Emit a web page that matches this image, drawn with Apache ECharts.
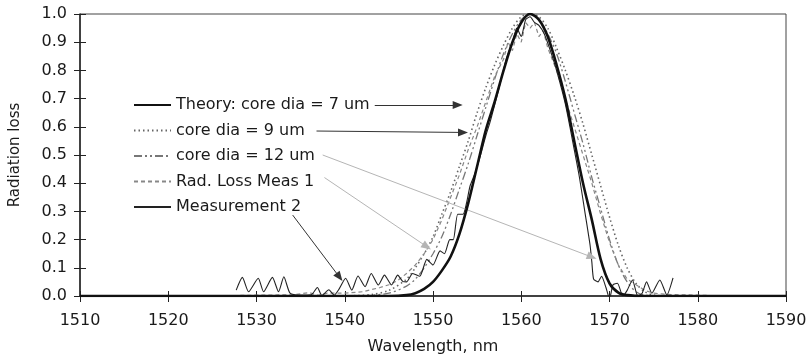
<!DOCTYPE html>
<html>
<head>
<meta charset="utf-8">
<script src="https://cdn.jsdelivr.net/npm/echarts@6/dist/echarts.min.js"></script>
<style>
  html, body { margin: 0; padding: 0; background: #fff; }
  #chart { width: 811px; height: 360px; }
</style>
</head>
<body>
<div id="chart"></div>
<script>
// Axis ranges and tick labels
const xTicks = [1510, 1520, 1530, 1540, 1550, 1560, 1570, 1580, 1590];
const yTicks = [0.0, 0.1, 0.2, 0.3, 0.4, 0.5, 0.6, 0.7, 0.8, 0.9, 1.0];

// Theory: core dia = 7 um
const theory7Wl = [1510, 1545, 1547, 1548, 1549, 1550, 1551, 1552, 1553, 1554, 1555, 1556, 1557, 1558, 1559, 1560, 1561, 1562, 1563, 1564, 1565, 1566, 1567, 1568, 1569, 1570, 1571, 1572, 1574, 1590];
const theory7Loss = [0, 0, 0.003, 0.01, 0.025, 0.05, 0.09, 0.14, 0.22, 0.33, 0.46, 0.59, 0.69, 0.8, 0.9, 0.97, 1.0, 0.98, 0.92, 0.82, 0.7, 0.55, 0.4, 0.27, 0.13, 0.045, 0.012, 0.003, 0, 0];

// core dia = 9 um
const theory9Wl = [1540, 1543, 1545, 1547, 1548, 1549, 1550, 1551, 1552, 1553, 1554, 1555, 1556, 1557, 1558, 1559, 1560, 1561, 1562, 1563, 1564, 1565, 1566, 1567, 1568, 1569, 1570, 1571, 1572, 1573, 1574, 1575, 1577];
const theory9Loss = [0, 0.005, 0.02, 0.06, 0.1, 0.15, 0.21, 0.29, 0.37, 0.46, 0.55, 0.65, 0.74, 0.82, 0.89, 0.95, 0.99, 1.0, 0.99, 0.95, 0.88, 0.8, 0.71, 0.61, 0.5, 0.39, 0.28, 0.18, 0.1, 0.045, 0.015, 0.003, 0];

// core dia = 12 um
const theory12Wl = [1542, 1545, 1547, 1548, 1549, 1550, 1551, 1552, 1553, 1554, 1555, 1556, 1557, 1558, 1559, 1560, 1561, 1562, 1563, 1564, 1565, 1566, 1567, 1568, 1569, 1570, 1571, 1572, 1573, 1574, 1576];
const theory12Loss = [0, 0.01, 0.035, 0.06, 0.1, 0.15, 0.21, 0.29, 0.38, 0.47, 0.57, 0.67, 0.77, 0.86, 0.93, 0.98, 1.0, 0.98, 0.93, 0.86, 0.76, 0.65, 0.54, 0.42, 0.31, 0.2, 0.11, 0.05, 0.015, 0.003, 0];

// Rad. Loss Meas 1
const meas1Wl = [1525, 1530, 1534, 1536, 1537, 1538, 1540, 1542, 1544, 1545, 1546, 1547, 1548, 1549, 1550, 1551, 1552, 1553, 1554, 1555, 1556, 1557, 1558, 1558.5, 1559, 1559.5, 1560, 1560.5, 1561, 1561.5, 1562, 1562.5, 1563, 1564, 1565, 1566, 1567, 1568, 1569, 1570, 1571, 1572, 1573, 1574, 1575, 1577, 1580, 1583];
const meas1Loss = [0, 0.003, 0.004, 0.012, 0.002, 0.01, 0.01, 0.015, 0.03, 0.04, 0.055, 0.08, 0.11, 0.15, 0.2, 0.27, 0.35, 0.43, 0.52, 0.6, 0.69, 0.78, 0.84, 0.9, 0.87, 0.93, 0.9, 0.97, 0.95, 0.97, 0.92, 0.94, 0.88, 0.8, 0.7, 0.6, 0.5, 0.4, 0.29, 0.19, 0.11, 0.06, 0.04, 0.02, 0.01, 0.005, 0.003, 0];

// Measurement 2
const meas2Wl = [1527.7, 1528.4, 1529.1, 1530.2, 1530.8, 1531.8, 1532.5, 1533.1, 1533.8, 1535.0, 1536.2, 1536.9, 1537.4, 1538.2, 1538.8, 1539.4, 1540.1, 1540.8, 1541.5, 1542.3, 1543.0, 1543.8, 1544.5, 1545.3, 1546.0, 1546.6, 1547.0, 1547.7, 1548.5, 1549.3, 1550.0, 1550.8, 1551.3, 1551.9, 1552.3, 1552.8, 1553.4, 1553.8, 1554.2, 1554.7, 1555.3, 1556.0, 1556.5, 1557.5, 1558.3, 1559.0, 1559.5, 1560.0, 1560.5, 1561.0, 1561.5, 1562.0, 1562.6, 1563.3, 1564.0, 1565.0, 1566.0, 1566.6, 1567.2, 1567.8, 1568.0, 1568.2, 1568.7, 1569.1, 1569.6, 1570.0, 1570.4, 1570.9, 1571.5, 1572.0, 1572.6, 1573.2, 1573.7, 1574.2, 1574.8, 1575.7, 1576.5, 1577.2];
const meas2Loss = [0.021, 0.066, 0.015, 0.063, 0.015, 0.066, 0.015, 0.068, 0.01, 0.003, 0.004, 0.03, 0.002, 0.022, 0.003, 0.027, 0.063, 0.021, 0.071, 0.033, 0.08, 0.039, 0.074, 0.039, 0.074, 0.051, 0.05, 0.08, 0.07, 0.13, 0.11, 0.16, 0.15, 0.2, 0.2, 0.29, 0.29, 0.33, 0.39, 0.43, 0.49, 0.57, 0.62, 0.74, 0.84, 0.9, 0.95, 0.92, 0.98, 0.99, 0.97, 0.96, 0.93, 0.87, 0.8, 0.68, 0.52, 0.42, 0.3, 0.18, 0.12, 0.06, 0.05, 0.07, 0.03, -0.01, 0.04, 0.045, 0.0, 0.02, 0.057, 0.0, 0.01, 0.05, 0.01, 0.057, 0.004, 0.064];

// Callout arrows from the legend entries to the curves
const arrowFromWl = [1543.4, 1536.8, 1537.5, 1537.7, 1534.1];
const arrowFromLoss = [0.677, 0.585, 0.5, 0.42, 0.287];
const arrowToWl = [1552.8, 1553.4, 1568.0, 1549.3, 1539.4];
const arrowToLoss = [0.677, 0.58, 0.138, 0.175, 0.067];
const arrowColors = ['#333', '#333', '#b5b5b5', '#b5b5b5', '#333'];

const seriesNames = ['Theory: core dia = 7 um', 'core dia = 9 um', 'core dia = 12 um', 'Rad. Loss Meas 1', 'Measurement 2'];

const zip = (xs, ys) => xs.map((x, i) => [x, ys[i]]);
const FONT = 'DejaVu Sans';
const TEXT = '#1a1a1a';

const arrows = arrowFromWl.map((x, i) => [
  { coord: [x, arrowFromLoss[i]], lineStyle: { color: arrowColors[i], width: 1, type: 'solid' } },
  { coord: [arrowToWl[i], arrowToLoss[i]] }
]);

const chart = echarts.init(document.getElementById('chart'), null, { renderer: 'canvas' });

const baseX = { type: 'value', min: 1510, max: 1590, interval: 10 };
const baseY = { type: 'value', min: 0, max: 1, interval: 0.1 };

chart.setOption({
  animation: false,
  backgroundColor: '#fff',
  grid: { left: 80, right: 25, top: 14, bottom: 64, show: true, borderColor: '#444', borderWidth: 1 },
  legend: {
    orient: 'vertical',
    left: 133, top: 97,
    padding: 0,
    itemWidth: 37, itemHeight: 14, itemGap: 9.5,
    data: seriesNames,
    itemStyle: { color: 'rgba(0,0,0,0)', borderWidth: 0, opacity: 0 },
    textStyle: { fontFamily: FONT, fontSize: 16, color: TEXT }
  },
  xAxis: [
    Object.assign({}, baseX, {
      name: 'Wavelength, nm', nameLocation: 'middle', nameGap: 43,
      nameTextStyle: { fontFamily: FONT, fontSize: 16, color: TEXT },
      axisLine: { lineStyle: { color: '#222', width: 1.5 } },
      axisTick: { show: true, length: 6, lineStyle: { color: '#222' } },
      axisLabel: { fontFamily: FONT, fontSize: 16, color: TEXT, margin: 17,
        formatter: v => xTicks.includes(v) ? String(v) : '' },
      splitLine: { show: false }
    }),
    Object.assign({}, baseX, {
      position: 'bottom',
      axisLine: { show: false },
      axisTick: { show: true, inside: true, length: 5, lineStyle: { color: '#222' } },
      axisLabel: { show: false },
      splitLine: { show: false }
    })
  ],
  yAxis: [
    Object.assign({}, baseY, {
      name: 'Radiation loss', nameLocation: 'middle', nameGap: 57,
      nameTextStyle: { fontFamily: FONT, fontSize: 15, color: TEXT },
      axisLine: { show: true, lineStyle: { color: '#222', width: 1.5 } },
      axisTick: { show: true, length: 6, lineStyle: { color: '#222' } },
      axisLabel: { fontFamily: FONT, fontSize: 16, color: TEXT, margin: 13,
        formatter: v => v.toFixed(1) },
      splitLine: { show: false }
    }),
    Object.assign({}, baseY, {
      position: 'left',
      axisLine: { show: false },
      axisTick: { show: true, inside: true, length: 6, lineStyle: { color: '#222' } },
      axisLabel: { show: false },
      splitLine: { show: false }
    })
  ],
  series: [
    {
      name: seriesNames[0], type: 'line', showSymbol: false, symbol: 'none', smooth: 0.3,
      data: zip(theory7Wl, theory7Loss),
      lineStyle: { color: '#111', width: 2.6 }, itemStyle: { color: '#111' }, z: 5
    },
    {
      name: seriesNames[1], type: 'line', showSymbol: false, symbol: 'none', smooth: 0.3,
      data: zip(theory9Wl, theory9Loss),
      lineStyle: { color: '#666', width: 1.6, type: [1.5, 3] }, itemStyle: { color: '#666' }, z: 3
    },
    {
      name: seriesNames[2], type: 'line', showSymbol: false, symbol: 'none', smooth: 0.3,
      data: zip(theory12Wl, theory12Loss),
      lineStyle: { color: '#777', width: 1.3, type: [8, 3, 2, 3, 2, 3] }, itemStyle: { color: '#777' }, z: 3
    },
    {
      name: seriesNames[3], type: 'line', showSymbol: false, symbol: 'none',
      data: zip(meas1Wl, meas1Loss),
      lineStyle: { color: '#888', width: 1.2, type: [4, 3] }, itemStyle: { color: '#888' }, z: 3
    },
    {
      name: seriesNames[4], type: 'line', showSymbol: false, symbol: 'none', smooth: 0.2,
      data: zip(meas2Wl, meas2Loss),
      lineStyle: { color: '#222', width: 1.1 }, itemStyle: { color: '#222' }, z: 4,
      markLine: {
        silent: true, animation: false,
        symbol: ['none', 'triangle'], symbolSize: [8, 10],
        label: { show: false },
        emphasis: { disabled: true },
        data: arrows
      }
    }
  ]
});
</script>
</body>
</html>
